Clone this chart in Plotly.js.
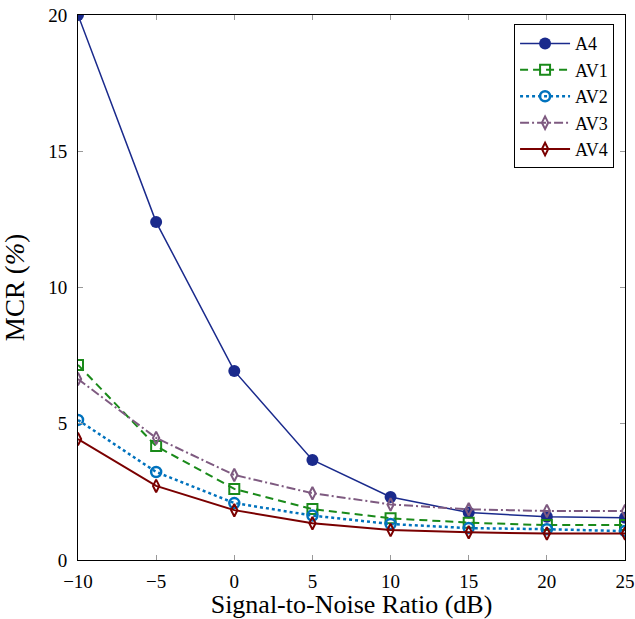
<!DOCTYPE html>
<html>
<head>
<meta charset="utf-8">
<script src="https://cdn.plot.ly/plotly-3.0.1.min.js"></script>
<style>body{margin:0;padding:0;background:#fff;}</style>
</head>
<body>
<div id="chart" style="width:635px;height:619px;"></div>
<script>
const snr = [-10, -5, 0, 5, 10, 15, 20, 25];
const A4  = [20.0, 12.40, 6.94, 3.67, 2.31, 1.74, 1.59, 1.55];
const AV1 = [7.16, 4.18, 2.61, 1.87, 1.53, 1.37, 1.28, 1.28];
const AV2 = [5.14, 3.23, 2.09, 1.63, 1.32, 1.17, 1.13, 1.06];
const AV3 = [6.64, 4.48, 3.12, 2.45, 2.04, 1.86, 1.80, 1.80];
const AV4 = [4.44, 2.72, 1.83, 1.35, 1.10, 1.02, 0.97, 0.97];
const xTicks = [-10, -5, 0, 5, 10, 15, 20, 25];
const xTickText = ['\u221210', '\u22125', '0', '5', '10', '15', '20', '25'];
const yTicks = [0, 5, 10, 15, 20];

const traces = [
  {x: snr, y: A4, name: 'A4', mode: 'lines+markers',
   line: {color: '#1a2a8c', width: 1.5},
   marker: {symbol: 'circle', size: 12, color: '#1a2a8c'}},
  {x: snr, y: AV1, name: 'AV1', mode: 'lines+markers',
   line: {color: '#1a8a1a', width: 2, dash: '8px,5px'},
   marker: {symbol: 'square-open', size: 10, color: '#1a8a1a', line: {width: 2, color: '#1a8a1a'}}},
  {x: snr, y: AV2, name: 'AV2', mode: 'lines+markers',
   line: {color: '#0072bd', width: 2.5, dash: 'dot'},
   marker: {symbol: 'circle-open', size: 10, color: '#0072bd', line: {width: 2.5, color: '#0072bd'}}},
  {x: snr, y: AV3, name: 'AV3', mode: 'lines+markers',
   line: {color: '#7e5a80', width: 2, dash: '9px,3px,2px,3px'},
   marker: {symbol: 'diamond-tall-open', size: 9, color: '#7e5a80', line: {width: 2, color: '#7e5a80'}}},
  {x: snr, y: AV4, name: 'AV4', mode: 'lines+markers',
   line: {color: '#7a0000', width: 2},
   marker: {symbol: 'diamond-tall-open', size: 9, color: '#7a0000', line: {width: 2, color: '#7a0000'}}}
];

const FAM = 'Liberation Serif';
function f(size) { return {family: FAM, size: size, color: '#000'}; }

const layout = {
  width: 635, height: 619,
  margin: {l: 78, r: 10, t: 15, b: 59},
  paper_bgcolor: '#fff', plot_bgcolor: '#fff',
  font: f(18),
  showlegend: true,
  legend: {
    x: 0.98, y: 0.983, xanchor: 'right', yanchor: 'top',
    bordercolor: '#000', borderwidth: 1, bgcolor: '#fff',
    font: f(18),
    itemwidth: 50,
    tracegroupgap: 0
  },
  xaxis: {
    range: [-10, 25], tickvals: xTicks, ticktext: xTickText,
    showgrid: false, zeroline: false,
    showline: true, linecolor: '#000', linewidth: 1, mirror: 'ticks',
    ticks: 'inside', ticklen: 5, tickcolor: '#999', tickwidth: 1,
    ticklabelstandoff: 4,
    tickfont: f(19),
    title: {text: 'Signal-to-Noise Ratio (dB)', font: f(26), standoff: 4}
  },
  yaxis: {
    range: [0, 20], tickvals: yTicks,
    showgrid: false, zeroline: false,
    showline: true, linecolor: '#000', linewidth: 1, mirror: 'ticks',
    ticks: 'inside', ticklen: 5, tickcolor: '#999', tickwidth: 1,
    ticklabelstandoff: 6,
    tickfont: f(19),
    title: {text: 'MCR (<i>%</i>)', font: f(27), standoff: 18}
  }
};

Plotly.newPlot('chart', traces, layout, {displayModeBar: false, staticPlot: true});
</script>
</body>
</html>
